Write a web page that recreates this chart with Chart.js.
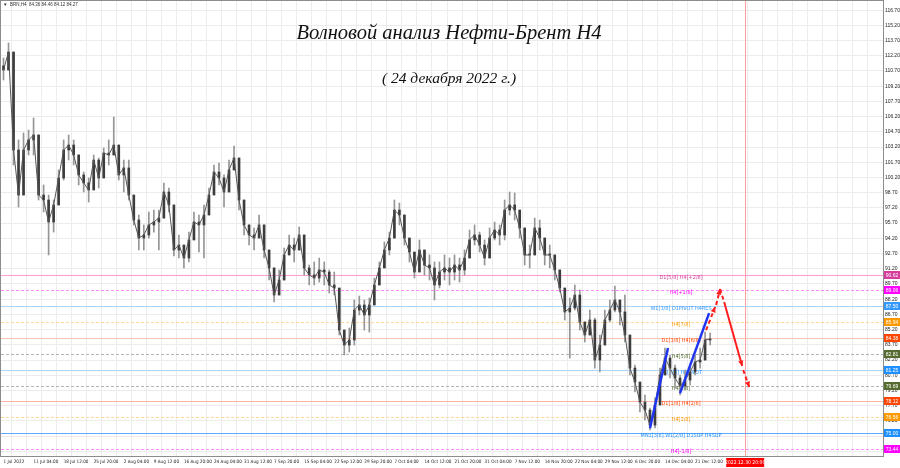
<!DOCTYPE html>
<html>
<head>
<meta charset="utf-8">
<script src="https://cdn.jsdelivr.net/npm/chart.js@4.4.0/dist/chart.umd.min.js"></script>
<style>
  html, body { margin: 0; padding: 0; background: #fff; }
  canvas { display: block; }
</style>
</head>
<body>
<canvas id="chart" width="900" height="468"></canvas>
<script>
// x axis: one slot per ~5px column, date label every 6 slots
const slotCount = 176;
const dateTicks = ['1 Jul 2022', '11 Jul 04:00', '18 Jul 12:00', '25 Jul 20:00', '2 Aug 04:00', '9 Aug 12:00',
  '16 Aug 20:00', '24 Aug 04:00', '31 Aug 12:00', '7 Sep 20:00', '15 Sep 04:00', '22 Sep 12:00',
  '29 Sep 20:00', '7 Oct 04:00', '14 Oct 12:00', '21 Oct 20:00', '31 Oct 04:00', '7 Nov 12:00',
  '14 Nov 20:00', '22 Nov 04:00', '29 Nov 12:00', '6 Dec 20:00', '14 Dec 04:00', '21 Dec 12:00'];
const yTicks = [73.2, 74.7, 76.2, 77.7, 79.2, 80.7, 82.2, 83.7, 85.2, 86.7, 88.2, 89.7, 91.2, 92.7, 94.2,
  95.7, 97.2, 98.7, 100.2, 101.7, 103.2, 104.7, 106.2, 107.7, 109.2, 110.7, 112.2, 113.7, 115.2, 116.7];

// BRN H4
const firstOpen = 111.2;
const closes = [
  110.80, 112.57, 102.91, 98.47, 102.91, 103.90, 104.39, 98.47, 97.98, 95.81,
  97.49, 100.15, 102.91, 103.40, 102.42, 100.45, 99.66, 98.97, 101.92, 100.15,
  102.61, 102.42, 103.40, 100.45, 101.14, 98.47, 96.01, 94.23, 94.53, 95.52,
  95.81, 96.20, 98.77, 97.49, 93.05, 93.54, 92.26, 94.04, 95.81, 95.52,
  96.50, 98.47, 100.74, 100.15, 98.77, 100.94, 102.12, 97.98, 95.52, 94.53,
  94.23, 95.52, 93.05, 91.28, 88.61, 90.09, 92.56, 93.54, 93.05, 94.53,
  91.28, 90.59, 90.29, 91.08, 90.88, 89.60, 89.30, 85.16, 83.68, 84.18,
  87.13, 87.63, 86.64, 87.63, 89.60, 91.28, 93.05, 94.23, 96.99, 96.50,
  94.23, 92.85, 90.88, 93.05, 91.57, 91.28, 89.60, 90.88, 91.28, 90.88,
  91.57, 91.08, 92.26, 94.04, 94.53, 93.54, 92.26, 94.23, 95.02, 94.53,
  96.99, 97.49, 96.99, 95.22, 92.56, 92.56, 95.22, 94.23, 92.56, 92.56,
  91.08, 89.30, 86.94, 87.33, 88.61, 85.95, 84.67, 86.15, 82.20, 83.68,
  86.15, 87.13, 88.12, 86.94, 84.67, 81.41, 80.03, 78.06, 77.27, 75.79,
  77.77, 80.73, 82.40, 81.41, 80.43, 79.64, 80.23, 81.02, 82.01, 82.20,
  84.18, 84.27];
const highs = [
  111.98, 113.46, 111.59, 103.90, 104.59, 104.88, 106.06, 104.39, 99.46, 98.47,
  97.98, 100.94, 103.90, 104.39, 103.90, 102.42, 100.74, 100.15, 102.42, 102.12,
  103.11, 103.90, 106.16, 103.40, 101.92, 101.92, 97.98, 96.50, 95.52, 96.80,
  96.99, 96.99, 99.66, 99.16, 97.49, 94.53, 93.25, 94.82, 96.80, 96.50,
  97.49, 99.16, 101.43, 101.63, 100.45, 101.92, 103.30, 101.92, 97.98, 95.52,
  95.22, 96.50, 95.22, 92.56, 90.09, 91.08, 93.25, 94.53, 94.23, 95.32,
  94.04, 91.57, 91.87, 92.26, 91.87, 91.08, 90.88, 88.61, 85.16, 85.36,
  88.12, 88.51, 88.12, 88.32, 90.29, 91.87, 93.84, 94.82, 97.98, 97.68,
  96.01, 94.23, 92.56, 94.04, 93.05, 92.56, 91.87, 91.87, 92.56, 92.26,
  92.56, 92.26, 93.05, 95.02, 95.52, 94.82, 94.04, 95.22, 95.81, 95.52,
  97.98, 98.77, 98.67, 96.80, 95.02, 93.54, 96.20, 96.01, 94.04, 93.54,
  92.56, 91.08, 89.30, 88.32, 89.60, 89.11, 85.95, 87.13, 86.34, 84.67,
  87.13, 88.12, 89.50, 88.12, 88.61, 84.18, 81.71, 79.74, 78.75, 77.47,
  78.46, 81.41, 83.39, 82.70, 81.71, 80.73, 81.22, 81.71, 82.70, 83.39,
  84.96, 84.87];
const lows = [
  109.81, 111.59, 101.43, 97.29, 98.97, 102.42, 102.42, 97.98, 96.80, 92.56,
  94.82, 98.47, 99.95, 101.92, 101.43, 99.46, 98.77, 97.78, 100.15, 99.16,
  100.74, 101.43, 102.71, 99.95, 98.77, 97.98, 95.52, 93.05, 93.05, 94.23,
  94.82, 93.05, 96.50, 96.80, 92.46, 92.26, 91.28, 91.87, 94.82, 92.85,
  92.26, 96.80, 98.97, 99.46, 97.29, 98.77, 100.94, 96.99, 94.53, 93.54,
  93.05, 94.23, 92.26, 90.09, 87.92, 88.61, 91.28, 92.56, 91.87, 93.25,
  90.59, 89.60, 89.60, 89.89, 89.60, 88.81, 88.61, 84.67, 82.70, 82.99,
  83.68, 86.64, 85.16, 84.96, 88.12, 89.89, 91.57, 92.56, 95.22, 95.52,
  93.54, 91.87, 90.29, 91.08, 90.59, 90.09, 88.12, 89.30, 90.09, 89.60,
  90.09, 89.89, 90.59, 92.56, 93.54, 92.85, 91.57, 93.05, 94.04, 93.54,
  94.04, 96.50, 96.01, 94.23, 91.57, 91.28, 94.04, 93.05, 91.57, 91.28,
  90.09, 88.91, 86.15, 82.40, 87.13, 85.16, 83.98, 84.67, 81.41, 81.02,
  84.67, 85.95, 86.94, 85.66, 83.98, 80.73, 79.05, 77.08, 76.29, 75.30,
  75.50, 79.05, 81.02, 80.43, 79.44, 78.75, 79.25, 79.74, 80.73, 81.41,
  82.70, 83.68];

// Murrey levels
const levelValues = [90.62, 89.06, 87.50, 85.94, 84.38, 82.81, 81.25, 79.69, 78.12, 76.56, 75.00, 73.44];
const levelNames = ['D1[5/8] H4[+2/8]', 'H4[+1/8]', 'W1[3/8] D1PIVOT H4RES', 'H4[7/8]', 'D1[3/8] H4[6/8]',
  'H4[5/8]', 'D1[2/8] H4PIVOT', 'H4[3/8]', 'D1[1/8] H4[2/8]', 'H4[1/8]', 'MN1[3/8] W1[2/8] D1SUP H4SUP', 'H4[-1/8]'];
const levelColors = ['#d63c9c', '#ff00ff', '#3399ff', '#ff9900', '#ff4500', '#556b2f',
  '#1e90ff', '#556b2f', '#ff4500', '#ff9900', '#1e90ff', '#ff00ff'];
const levelLineColors = ['#ff9ad5', '#ff8cff', '#aad5ff', '#ffd79a', '#ffc4b0', '#b4b4b4',
  '#aad5ff', '#b4b4b4', '#ffb4a4', '#ffd79a', '#5aa8ff', '#ff8cff'];
const levelDashed = [false, true, false, true, false, true, false, true, false, true, false, true];

// wave drawing
const blueWaves = [[[129.0, 75.49], [132.6, 83.38]], [[135.0, 78.94], [140.8, 86.83]]];
const redPath = [
  { pts: [[140.2, 85.16], [142.0, 87.43]], dashed: true, arrow: true },
  { pts: [[142.2, 87.63], [143.0, 89.20]], dashed: true, arrow: true },
  { pts: [[143.0, 89.20], [143.8, 87.92]], dashed: true, arrow: false },
  { pts: [[143.8, 87.92], [147.4, 81.61]], dashed: false, arrow: true },
  { pts: [[147.6, 81.22], [148.8, 79.54]], dashed: true, arrow: true }
];
const futureIndex = 148;
const futureLabel = '2022.12.30 20:00';
const levelLabelIndex = 135.2;

const opens = closes.map((c, i) => (i === 0 ? firstOpen : closes[i - 1]));
const wickData = closes.map((c, i) => ({
  x: i, y: [Math.min(lows[i], opens[i], c), Math.max(highs[i], opens[i], c)]
}));
const bodyData = closes.map((c, i) => ({ x: i, y: [opens[i], c] }));
const closeData = closes.map((c, i) => ({ x: i, y: c }));

const lineSets = [];
blueWaves.forEach((w) => lineSets.push({
  type: 'line', data: w.map((p) => ({ x: p[0], y: p[1] })),
  borderColor: '#1f35f0', borderWidth: 2.5, pointRadius: 0, arrowHead: false, order: 1
}));
redPath.forEach((s) => lineSets.push({
  type: 'line', data: s.pts.map((p) => ({ x: p[0], y: p[1] })),
  borderColor: '#ff1e1e', borderWidth: 2, borderDash: s.dashed ? [4, 3] : [],
  pointRadius: 0, arrowHead: s.arrow, arrowColor: '#ff1e1e', order: 1
}));

const smallFont = '"Liberation Sans Narrow", "DejaVu Sans Condensed", "Liberation Sans", Arial, sans-serif';

const levelsPlugin = {
  id: 'levels',
  beforeDatasetsDraw(chart) {
    const { ctx, chartArea: a, scales: { x, y } } = chart;
    ctx.save();
    const fx = Math.round(x.getPixelForValue(futureIndex)) + 0.5;
    ctx.strokeStyle = '#ff9c9c';
    ctx.lineWidth = 1;
    ctx.beginPath(); ctx.moveTo(fx, a.top); ctx.lineTo(fx, a.bottom); ctx.stroke();
    const lx = x.getPixelForValue(levelLabelIndex);
    levelValues.forEach((v, i) => {
      const py = Math.round(y.getPixelForValue(v)) + 0.5;
      ctx.strokeStyle = levelLineColors[i];
      ctx.lineWidth = 1;
      ctx.setLineDash(levelDashed[i] ? [3, 2] : []);
      ctx.beginPath(); ctx.moveTo(a.left, py); ctx.lineTo(a.right, py); ctx.stroke();
      ctx.setLineDash([]);
      ctx.fillStyle = levelColors[i];
      ctx.font = '5.5px ' + smallFont;
      ctx.textAlign = 'center';
      ctx.textBaseline = 'middle';
      ctx.fillText(levelNames[i], lx, py + 2.5);
    });
    ctx.restore();
  },
  afterDatasetsDraw(chart) {
    const { ctx } = chart;
    ctx.save();
    chart.data.datasets.forEach((ds, i) => {
      if (!ds.arrowHead) return;
      const pts = chart.getDatasetMeta(i).data;
      const p0 = pts[pts.length - 2], p1 = pts[pts.length - 1];
      const ang = Math.atan2(p1.y - p0.y, p1.x - p0.x);
      const s = 6;
      ctx.fillStyle = ds.arrowColor;
      ctx.beginPath();
      ctx.moveTo(p1.x, p1.y);
      ctx.lineTo(p1.x - s * Math.cos(ang - 0.45), p1.y - s * Math.sin(ang - 0.45));
      ctx.lineTo(p1.x - s * Math.cos(ang + 0.45), p1.y - s * Math.sin(ang + 0.45));
      ctx.closePath();
      ctx.fill();
    });
    ctx.restore();
  },
  afterDraw(chart) {
    const { ctx, chartArea: a, scales: { x, y } } = chart;
    ctx.save();
    // frame
    ctx.strokeStyle = '#8c8c8c';
    ctx.lineWidth = 1;
    ctx.strokeRect(a.left - 0.5, a.top - 0.5, a.right - a.left + 1, a.bottom - a.top + 1);
    // price boxes on the axis
    ctx.font = '5px "Liberation Sans", Arial, sans-serif';
    ctx.textAlign = 'center';
    ctx.textBaseline = 'middle';
    levelValues.forEach((v, i) => {
      const py = Math.round(y.getPixelForValue(v));
      ctx.fillStyle = levelColors[i];
      ctx.fillRect(a.right + 1, py - 4, 16, 8);
      ctx.fillStyle = '#fff';
      ctx.fillText(v.toFixed(2), a.right + 9, py + 0.5);
    });
    // future date box
    const fx = x.getPixelForValue(futureIndex);
    ctx.fillStyle = '#ff0000';
    ctx.fillRect(fx - 19, a.bottom + 2, 38, 9);
    ctx.fillStyle = '#fff';
    ctx.font = '5px ' + smallFont;
    ctx.fillText(futureLabel, fx, a.bottom + 6.5);
    // header
    ctx.fillStyle = '#333';
    ctx.textAlign = 'left';
    ctx.font = '4.5px "Liberation Sans", Arial, sans-serif';
    ctx.fillText('\u25BC  BRN,H4  84.36 84.46 84.12 84.27', 3, 5);
    // title
    ctx.fillStyle = '#111';
    ctx.textAlign = 'center';
    ctx.font = 'italic 20.5px "Liberation Serif", serif';
    ctx.fillText('Волновой анализ Нефти-Брент H4', 449, 34);
    ctx.font = 'italic 15.5px "Liberation Serif", serif';
    ctx.fillText('( 24 декабря 2022 г.)', 449, 79);
    ctx.restore();
  }
};

new Chart(document.getElementById('chart'), {
  type: 'bar',
  data: {
    datasets: [
      ...lineSets,
      { type: 'line', data: closeData, borderColor: '#555555', borderWidth: 1, pointRadius: 0, order: 3 },
      { type: 'bar', data: wickData, backgroundColor: '#959595', barThickness: 1, grouped: false, order: 5 },
      { type: 'bar', data: bodyData, backgroundColor: '#3c3c3c', barThickness: 2, grouped: false, minBarLength: 1, order: 4 }
    ]
  },
  options: {
    responsive: false,
    animation: false,
    layout: { padding: { left: 1, top: 1, right: 0, bottom: 0 } },
    plugins: { legend: { display: false }, tooltip: { enabled: false } },
    scales: {
      x: {
        type: 'linear', min: -0.5, max: slotCount - 0.5, offset: false,
        grid: { color: '#ececec', drawTicks: false },
        border: { color: '#8c8c8c' },
        afterBuildTicks: (s) => {
          const t = [];
          for (let v = 0; v < slotCount; v += 3) t.push({ value: v });
          s.ticks = t;
        },
        ticks: {
          autoSkip: false, maxRotation: 0, align: 'start', padding: 3,
          color: '#222', font: { size: 4.6, family: smallFont },
          callback: (v) => (v % 6 === 0 && v / 6 < dateTicks.length ? dateTicks[v / 6] : '')
        },
        afterFit: (s) => { s.height = 12; s.paddingLeft = 0; s.paddingRight = 0; }
      },
      y: {
        type: 'linear', position: 'right', min: 72.74, max: 117.6,
        grid: { color: '#ececec', drawTicks: false },
        border: { color: '#8c8c8c' },
        afterBuildTicks: (s) => { s.ticks = yTicks.map((v) => ({ value: v })); },
        ticks: {
          padding: 2, color: '#222', font: { size: 5, family: '"Liberation Sans", Arial, sans-serif' },
          callback: (v) => v.toFixed(2)
        },
        afterFit: (s) => { s.width = 17; s.paddingTop = 0; s.paddingBottom = 0; }
      }
    }
  },
  plugins: [levelsPlugin]
});
</script>
</body>
</html>
